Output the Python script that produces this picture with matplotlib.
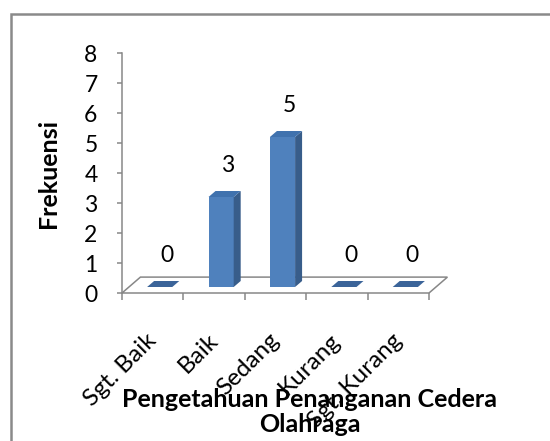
import matplotlib
matplotlib.use('Agg')
import matplotlib.pyplot as plt
from matplotlib.patches import Polygon, Rectangle
import numpy as np

categories = ['Sgt. Baik', 'Baik', 'Sedang', 'Kurang', 'Sgt. Kurang']
values = [0, 3, 5, 0, 0]
y_ticks = [0, 1, 2, 3, 4, 5, 6, 7, 8]
y_label = 'Frekuensi'
x_label = 'Pengetahuan Penanganan Cedera\nOlahraga'

plt.rcParams['font.family'] = ['Lato', 'DejaVu Sans']

W, H = 550, 441
fig = plt.figure(figsize=(W / 100, H / 100), dpi=100)
fig.patch.set_facecolor('white')

GREY = '#878787'
FRONT = '#4F81BD'
SIDE = '#385D8A'
TOP = '#4072AE'
FS = 16.5
FS_C = 17.5
FS_T = 18

ax = fig.add_axes([122 / W, (H - 293) / H, 307 / W, 240 / H])
ax.set_xlim(-0.5, 4.5)
ax.set_ylim(0, 8)
ax.set_facecolor('none')

# depth parameters (data units)
floor_dx, floor_dy = 0.30, 0.53
off_x, off_y = 0.114, 0.2
bar_dx, bar_dy = 0.114, 0.2
bar_w = 0.41

floor = Polygon([(-0.5, 0), (4.5, 0), (4.5 + floor_dx, floor_dy), (-0.5 + floor_dx, floor_dy)],
                closed=True, facecolor='white', edgecolor=GREY, lw=1.1, clip_on=False, zorder=1)
ax.add_patch(floor)

x = np.arange(len(categories))
bars = ax.bar(x + off_x, values, width=bar_w, bottom=off_y, color=FRONT, zorder=3, clip_on=False)
for xi, v in zip(x, values):
    xl = xi + off_x - bar_w / 2
    xr = xi + off_x + bar_w / 2
    b = off_y
    t = b + v
    if v > 0:
        side = Polygon([(xr, b), (xr + bar_dx, b + bar_dy), (xr + bar_dx, t + bar_dy), (xr, t)],
                       closed=True, facecolor=SIDE, edgecolor='none', zorder=3, clip_on=False)
        ax.add_patch(side)
    top = Polygon([(xl, t), (xr, t), (xr + bar_dx, t + bar_dy), (xl + bar_dx, t + bar_dy)],
                  closed=True, facecolor=TOP if v > 0 else '#3B6499', edgecolor='none', zorder=4, clip_on=False)
    ax.add_patch(top)
    ax.annotate(str(v), xy=(xi, t), xytext=(14 * 0.72, 31 * 0.72), textcoords='offset points',
                ha='center', va='center', fontsize=FS, color='black', zorder=5)

for s in ['top', 'right', 'bottom']:
    ax.spines[s].set_visible(False)
ax.spines['left'].set_color(GREY)
ax.spines['left'].set_linewidth(1.1)

ax.set_yticks(y_ticks)
ax.tick_params(axis='y', length=3.6, width=1.1, color=GREY, pad=14, labelsize=FS)
label_shift = 0.08
ax.set_xticks(x + label_shift)
ax.set_xticklabels(categories, rotation=45, ha='right', va='baseline', rotation_mode='anchor', fontsize=FS_C)
ax.tick_params(axis='x', which='major', length=0, pad=35)
ax.set_xticks(np.arange(-0.5, 5, 1), minor=True)
ax.tick_params(axis='x', which='minor', length=5, width=1.1, color=GREY, direction='out')

ax.set_ylabel(y_label, fontsize=FS_T, fontweight='bold', va='center')
ax.yaxis.set_label_coords((48 - 122) / 307, (293 - 173) / 240)
ax.set_xlabel(x_label, fontsize=FS_T, fontweight='bold', va='center', linespacing=1.15)
ax.xaxis.set_label_coords((310 - 122) / 307, (293 - 412) / 240)

frame = Rectangle((10.7 / W, -0.1), 2.0, (H - 13.8) / H + 0.1, transform=fig.transFigure,
                  fill=False, edgecolor='#8a8a8a', lw=1.8)
fig.add_artist(frame)

fig.savefig('out.png', dpi=100, facecolor='white')
